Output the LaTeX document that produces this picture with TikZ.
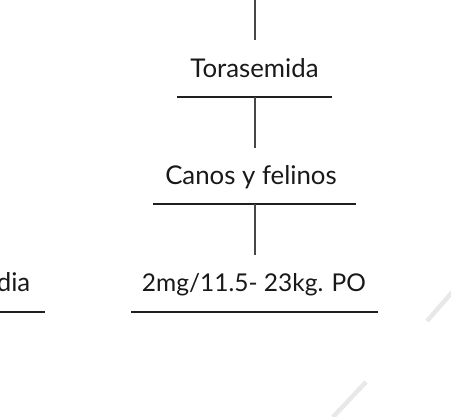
\documentclass[tikz,border=0pt]{standalone}
\usepackage{fontspec}
\setmainfont{Lato}
\begin{document}
\begin{tikzpicture}[x=1pt,y=-1pt]
		\tikzstyle{etiqueta}=[font=\fontsize{25.8}{30}\selectfont, text=black!90, inner sep=0pt, anchor=base]
		\tikzstyle{raya}=[line width=2.2pt, draw=black!88]
		\tikzstyle{tallo}=[line width=2pt, draw=black!72]
		\tikzstyle{marca}=[line width=4.5pt, draw=black!9]
		\useasboundingbox (0,0) rectangle (451,417);
		% marcas grises al fondo
		\draw[marca] (455,289) -- (427,321);
		\draw[marca] (366,382) -- (333,417);
		% textos
		\node[etiqueta] (tora) at (254.5,77.5) {Torasemida};
		\node[etiqueta] (canos) at (251,185) {Canos y felinos};
		\node[etiqueta, font=\fontsize{24.5}{30}\selectfont] (dosis) at (254,292) {2mg/11.5- 23kg. PO};
		\node[etiqueta, anchor=base east] (dia) at (30.5,292) {dia};
		% rayas
		\coordinate (r1a) at (177,97);  \coordinate (r1b) at (332,97);
		\coordinate (r2a) at (153,204); \coordinate (r2b) at (356,204);
		\coordinate (r3a) at (131,312); \coordinate (r3b) at (378,312);
		\coordinate (r4a) at (0,312);   \coordinate (r4b) at (45,312);
		\draw[raya] (r1a) -- (r1b);
		\draw[raya] (r2a) -- (r2b);
		\draw[raya] (r3a) -- (r3b);
		\draw[raya] (r4a) -- (r4b);
		% tallos
		\coordinate (arriba) at (254.5,0);
		\coordinate (t0) at (254.5,40);
		\coordinate (m1) at (254.5,97);
		\coordinate (t1) at (254.5,148);
		\coordinate (m2) at (254.5,204);
		\coordinate (t2) at (254.5,255);
		\draw[tallo] (arriba) -- (t0);
		\draw[tallo] (m1) -- (t1);
		\draw[tallo] (m2) -- (t2);
	\end{tikzpicture}
\end{document}
